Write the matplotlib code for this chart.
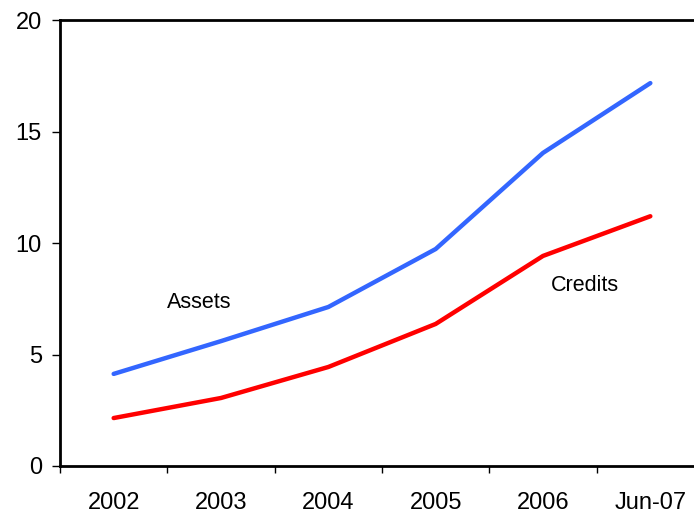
import matplotlib
matplotlib.use("Agg")
import matplotlib.pyplot as plt

categories = ["2002", "2003", "2004", "2005", "2006", "Jun-07"]
assets = [4.13, 5.6, 7.13, 9.73, 14.04, 17.17]
credits = [2.15, 3.05, 4.44, 6.37, 9.42, 11.2]

plt.rcParams['font.family'] = ['Liberation Sans', 'DejaVu Sans']

fig = plt.figure(figsize=(6.94, 5.16), dpi=100)
ax = fig.add_axes([60/694, (516-466)/516, 644/694, 446/516])

x = list(range(len(categories)))
ax.plot(x, assets, color='#3366FF', lw=3.2, solid_capstyle='round')
ax.plot(x, credits, color='#FF0000', lw=3.2, solid_capstyle='round')

ax.set_xlim(-0.5, len(categories) - 0.5)
ax.set_ylim(0, 20)
ax.set_yticks([0, 5, 10, 15, 20])
ax.set_xticks([i - 0.5 for i in range(len(categories))])
ax.set_xticklabels([])
ax.set_xticks(x, minor=True)
ax.set_xticklabels(categories, minor=True)
ax.tick_params(axis='x', which='minor', length=0, pad=19, labelsize=17)
ax.tick_params(axis='x', which='major', length=5, width=1, direction='out')
ax.tick_params(axis='y', length=6, width=1, direction='out', labelsize=17, pad=7)

for s in ax.spines.values():
    s.set_linewidth(2)

ax.text(0.8, 7.35, "Assets", fontsize=15.5, ha='center', va='center')
ax.text(4.39, 8.1, "Credits", fontsize=15.5, ha='center', va='center')

fig.savefig("out.png", dpi=100)
